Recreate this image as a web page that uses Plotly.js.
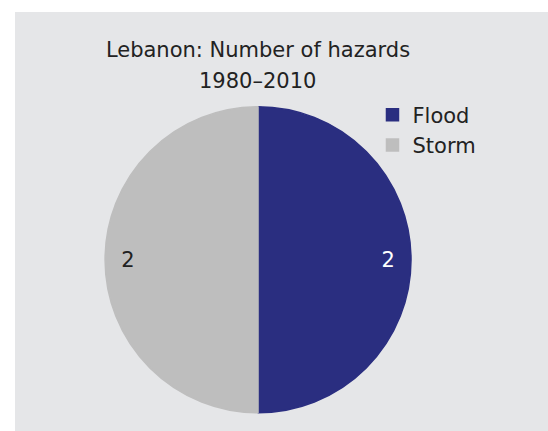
<!DOCTYPE html>
<html>
<head>
<meta charset="utf-8">
<script src="https://cdn.plot.ly/plotly-3.0.1.min.js"></script>
<style>
html,body{margin:0;padding:0;background:#ffffff;}
#chart{position:absolute;left:15px;top:12px;width:533px;height:419px;}
</style>
</head>
<body>
<div id="chart"></div>
<script>
const categories = ["Flood", "Storm"];
const values = [2, 2];
const sliceColors = ["#2a2e80", "#bebebe"];
const labelColors = ["#ffffff", "#222222"];
const titleLine1 = "Lebanon: Number of hazards";
const titleLine2 = "1980–2010";

const FONT = "DejaVu Sans, sans-serif";
const pieDomain = {x: [0.1689, 0.7430], y: [0.0437, 0.774]};

const data = [
  {
    type: "pie",
    labels: categories,
    values: values,
    sort: false,
    direction: "clockwise",
    rotation: 0,
    marker: {colors: sliceColors, line: {color: sliceColors, width: 1.5}},
    textinfo: "none",
    hoverinfo: "label+value",
    domain: pieDomain
  },
  {
    type: "pie",
    labels: categories,
    values: values,
    sort: false,
    direction: "clockwise",
    rotation: 0,
    hole: 0.7,
    showlegend: false,
    marker: {colors: ["rgba(0,0,0,0)", "rgba(0,0,0,0)"], line: {width: 0}},
    textinfo: "value",
    textposition: "inside",
    insidetextorientation: "horizontal",
    textfont: {family: FONT, size: 21, color: labelColors},
    hoverinfo: "skip",
    domain: pieDomain
  }
];

const layout = {
  width: 533, height: 419,
  margin: {l: 0, r: 0, t: 0, b: 0},
  paper_bgcolor: "#e5e6e8",
  font: {family: FONT, color: "#222222"},
  title: {
    text: titleLine1,
    font: {family: FONT, size: 21, color: "#222222"},
    x: 0.4559, xanchor: "center",
    y: 0.928, yanchor: "top"
  },
  annotations: [{
    text: titleLine2,
    xref: "paper", yref: "paper",
    x: 0.4559, xanchor: "center",
    y: 0.8687, yanchor: "top",
    showarrow: false,
    font: {family: FONT, size: 21, color: "#222222"}
  }],
  showlegend: true,
  legend: {
    x: 0.6707, xanchor: "left",
    y: 0.803, yanchor: "top",
    bgcolor: "rgba(0,0,0,0)",
    font: {family: FONT, size: 21, color: "#222222"}
  }
};

Plotly.newPlot("chart", data, layout, {displayModeBar: false, staticPlot: true});
</script>
</body>
</html>
